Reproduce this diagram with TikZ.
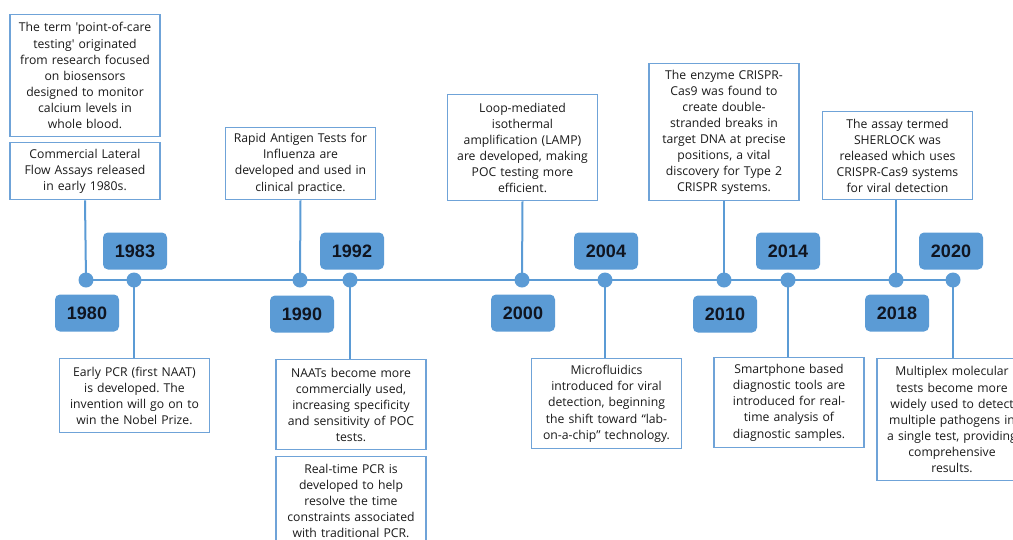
\documentclass[tikz,border=0pt]{standalone}
\usepackage{fontspec}
\newfontfamily\bodyfont{Open Sans}[Ligatures=TeXOff]
\newfontfamily\yearfont{Liberation Sans}
\usetikzlibrary{backgrounds}
\definecolor{tlblue}{HTML}{5B9BD5}
\definecolor{boxblue}{HTML}{6FA3D8}
\definecolor{yeartext}{HTML}{101520}
\definecolor{bodytext}{HTML}{1A1A1A}
\tikzset{
  evbox/.style={draw=boxblue, line width=1.4pt, fill=white, anchor=north,
    minimum width=150pt, text width=144pt, inner xsep=3pt, inner ysep=0pt,
    align=center, text=bodytext,
    font=\bodyfont\frenchspacing\fontsize{12.2}{16.1}\selectfont},
  yearbox/.style={fill=tlblue, rounded corners=5pt, minimum width=64pt,
    minimum height=37pt, inner sep=0pt, text=yeartext,
    font=\yearfont\bfseries\fontsize{18}{20}\selectfont},
  dot/.style={circle, fill=tlblue, minimum size=15pt, inner sep=0pt},
  tline/.style={draw=tlblue, line width=2pt},
}
\begin{document}
\begin{tikzpicture}[x=1pt, y=-1pt]
\useasboundingbox (0,0) rectangle (1013,539);
\clip (0,0) rectangle (1013,539);

% dots
\node[dot] (d1980) at (86,280) {};
\node[dot] (d1983) at (134,280) {};
\node[dot] (d1990) at (300,280) {};
\node[dot] (d1992) at (350,280) {};
\node[dot] (d2000) at (522,280) {};
\node[dot] (d2004) at (605,280) {};
\node[dot] (d2010) at (724,280) {};
\node[dot] (d2014) at (788,280) {};
\node[dot] (d2018) at (896,280) {};
\node[dot] (d2020) at (953,280) {};

% year labels
\node[yearbox] (y1983) at (135,251) {1983};
\node[yearbox] (y1992) at (352,251) {1992};
\node[yearbox] (y2004) at (606,251) {2004};
\node[yearbox] (y2014) at (788,251) {2014};
\node[yearbox] (y2020) at (951,251) {2020};
\node[yearbox] (y1980) at (87,313) {1980};
\node[yearbox] (y1990) at (302,314) {1990};
\node[yearbox] (y2000) at (523,313) {2000};
\node[yearbox] (y2010) at (725,314) {2010};
\node[yearbox] (y2018) at (897,313) {2018};

% event boxes above
\node[evbox, minimum height=122pt] (b1) at (85,14)
  {The term 'point-of-care\\ testing' originated\\ from research focused\\ on biosensors\\ designed to monitor\\ calcium levels in\\ whole blood.};
\node[evbox, minimum height=57pt] (b2) at (85,142)
  {Commercial Lateral\\ Flow Assays released\\ in early 1980s.};
\node[evbox, minimum height=72pt] (b3) at (300.5,127)
  {Rapid Antigen Tests for\\ Influenza are\\ developed and used in\\ clinical practice.};
\node[evbox, minimum height=106pt] (b4) at (522.5,94)
  {Loop-mediated\\ isothermal\\ amplification (LAMP)\\ are developed, making\\ POC testing more\\ efficient.};
\node[evbox, minimum height=137pt] (b5) at (724,63)
  {The enzyme CRISPR-\\ Cas9 was found to\\ create double-\\ stranded breaks in\\ target DNA at precise\\ positions, a vital\\ discovery for Type 2\\ CRISPR systems.};
\node[evbox, minimum height=88pt] (b6) at (897.5,111)
  {The assay termed\\ SHERLOCK was\\ released which uses\\ CRISPR-Cas9 systems\\ for viral detection};

% event boxes below
\node[evbox, minimum height=74pt] (b7) at (134.5,358)
  {Early PCR (first NAAT)\\ is developed. The\\ invention will go on to\\ win the Nobel Prize.};
\node[evbox, minimum height=90pt] (b8) at (351,359)
  {NAATs become more\\ commercially used,\\ increasing specificity\\ and sensitivity of POC\\ tests.};
\node[evbox, minimum height=89pt] (b9) at (351,456)
  {Real-time PCR is\\ developed to help\\ resolve the time\\ constraints associated\\ with traditional PCR.};
\node[evbox, minimum height=90pt] (b10) at (606.5,358)
  {Microfluidics\\ introduced for viral\\ detection, beginning\\ the shift toward “lab-\\ on-a-chip” technology.};
\node[evbox, minimum height=90pt] (b11) at (789,357)
  {Smartphone based\\ diagnostic tools are\\ introduced for real-\\ time analysis of\\ diagnostic samples.};
\node[evbox, minimum height=122pt] (b12) at (952,358)
  {Multiplex molecular\\ tests become more\\ widely used to detect\\ multiple pathogens in\\ a single test, providing\\ comprehensive\\ results.};

\begin{scope}[on background layer]
  \draw[tline] (d1980.center) -- (d2020.center);
  \draw[tline] (b2.south) -- (d1980.center);
  \draw[tline] (b3.south) -- (d1990.center);
  \draw[tline] (b4.south) -- (d2000.center);
  \draw[tline] (b5.south) -- (d2010.center);
  \draw[tline] (b6.south -| d2018) -- (d2018.center);
  \draw[tline] (b7.north -| d1983) -- (d1983.center);
  \draw[tline] (b8.north -| d1992) -- (d1992.center);
  \draw[tline] (b10.north -| d2004) -- (d2004.center);
  \draw[tline] (b11.north -| d2014) -- (d2014.center);
  \draw[tline] (b12.north -| d2020) -- (d2020.center);
\end{scope}
\end{tikzpicture}
\end{document}
